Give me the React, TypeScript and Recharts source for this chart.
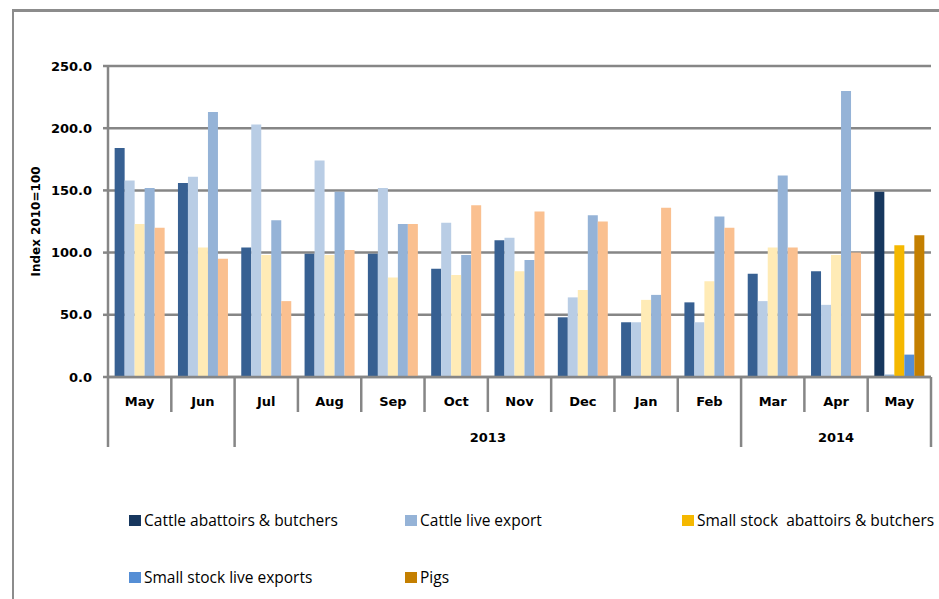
import React from 'react';
import { BarChart, Bar, XAxis, YAxis, CartesianGrid, Cell, Legend } from 'recharts';

const months = ['May', 'Jun', 'Jul', 'Aug', 'Sep', 'Oct', 'Nov', 'Dec', 'Jan', 'Feb', 'Mar', 'Apr', 'May'];
const years = [
  { label: '2013', startIndex: 2, endIndex: 9 },
  { label: '2014', startIndex: 10, endIndex: 12 },
];
const yearBreaks = [0, 2, 10];

const cattleAbattoirs = [184, 156, 104, 99, 99, 87, 110, 48, 44, 60, 83, 85, 149];
const cattleLive = [158, 161, 203, 174, 152, 124, 112, 64, 44, 44, 61, 58, 2];
const smallAbattoirs = [123, 104, 98, 98, 80, 82, 85, 70, 62, 77, 104, 98, 106];
const smallLive = [152, 213, 126, 149, 123, 98, 94, 130, 66, 129, 162, 230, 18];
const pigs = [120, 95, 61, 102, 123, 138, 133, 125, 136, 120, 104, 100, 114];

const seriesNames = [
  'Cattle abattoirs & butchers',
  'Cattle live export',
  'Small stock  abattoirs & butchers',
  'Small stock live exports',
  'Pigs',
];
const seriesKeys = ['ca', 'cl', 'sa', 'sl', 'pg'];
const strongColors = ['#17375e', '#95b3d7', '#f5b800', '#558ed5', '#c47f00'];
const fadedColors = ['#376092', '#b9cde5', '#ffebb6', '#95b3d7', '#fac090'];
const yTicks = [0, 50, 100, 150, 200, 250];

const data = months.map((m, i) => ({
  month: m,
  ca: cattleAbattoirs[i],
  cl: cattleLive[i],
  sa: smallAbattoirs[i],
  sl: smallLive[i],
  pg: pigs[i],
}));

const W = 939;
const H = 599;
const MARGIN = { top: 66, right: 8, left: 13, bottom: 152 };
const Y_AXIS_W = 95;
const PLOT_W = W - MARGIN.left - MARGIN.right - Y_AXIS_W;
const STEP = PLOT_W / months.length;
const GRID = '#868686';
const AXIS_FONT = '"DejaVu Sans", sans-serif';

const MonthTick = (props: any) => {
  const { x, y, payload, index } = props;
  const left = x - STEP / 2;
  const right = x + STEP / 2;
  const isBreak = yearBreaks.includes(index);
  const year = years.find((yr) => yr.startIndex === index);
  return (
    <g>
      <line x1={left} y1={y} x2={left} y2={y + (isBreak ? 70 : 35)} stroke={GRID} strokeWidth={2.5} />
      {index === months.length - 1 && (
        <line x1={right} y1={y} x2={right} y2={y + 70} stroke={GRID} strokeWidth={2.5} />
      )}
      <text x={x} y={y + 29} textAnchor="middle" fontFamily={AXIS_FONT} fontWeight="bold" fontSize={13} fill="#000">
        {payload.value}
      </text>
      {year && (
        <text
          x={left + ((year.endIndex - year.startIndex + 1) * STEP) / 2}
          y={y + 65}
          textAnchor="middle"
          fontFamily={AXIS_FONT}
          fontWeight="bold"
          fontSize={13}
          fill="#000"
        >
          {year.label}
        </text>
      )}
    </g>
  );
};

const LegendContent = () => (
  <div
    style={{
      display: 'grid',
      gridTemplateColumns: '276px 277px auto',
      gridAutoRows: '57px',
      paddingLeft: 129,
      fontFamily: '"Open Sans", sans-serif',
      fontSize: 15.5,
      color: '#000',
    }}
  >
    {seriesNames.map((name, i) => (
      <div key={i} style={{ display: 'flex', alignItems: 'center', height: 22, whiteSpace: 'pre' }}>
        <span style={{ display: 'inline-block', width: 12, height: 11, background: strongColors[i], marginRight: 3 }} />
        <span>{name}</span>
      </div>
    ))}
  </div>
);

export default function App() {
  return (
    <div style={{ position: 'absolute', left: 0, top: 0, width: W, height: H, background: '#fff', overflow: 'hidden' }}>
      <div style={{ position: 'absolute', left: 12, top: 9, width: 2, height: H, background: '#8c8c8c' }} />
      <div style={{ position: 'absolute', left: 12, top: 9, width: W, height: 2.5, background: '#8c8c8c' }} />
      <div style={{ position: 'absolute', left: 0, top: 0 }}>
        <BarChart width={W} height={H} data={data} margin={MARGIN} barCategoryGap="10.5%" barGap={0}>
          <CartesianGrid vertical={false} stroke={GRID} strokeWidth={2.5} />
          <XAxis
            dataKey="month"
            height={70}
            tickLine={false}
            tickSize={0}
            tickMargin={0}
            axisLine={{ stroke: GRID, strokeWidth: 2.5 }}
            tick={<MonthTick />}
            interval={0}
          />
          <YAxis
            domain={[0, 250]}
            ticks={yTicks}
            width={Y_AXIS_W}
            tickFormatter={(v: number) => v.toFixed(1)}
            tickSize={5}
            tickMargin={11}
            tickLine={{ stroke: GRID, strokeWidth: 2.5 }}
            axisLine={{ stroke: GRID, strokeWidth: 2.5 }}
            tick={{ fontFamily: AXIS_FONT, fontWeight: 'bold', fontSize: 13, fill: '#000' }}
            label={{
              value: 'Index 2010=100',
              angle: -90,
              position: 'insideLeft',
              offset: 23,
              style: { textAnchor: 'middle', fontFamily: AXIS_FONT, fontWeight: 'bold', fontSize: 12, fill: '#000' },
            }}
          />
          <Legend
            layout="horizontal"
            verticalAlign="middle"
            align="center"
            wrapperStyle={{ top: 509, left: 0, width: W }}
            content={<LegendContent />}
          />
          {seriesKeys.map((k, s) => (
            <Bar key={k} dataKey={k} name={seriesNames[s]} fill={strongColors[s]} isAnimationActive={false}>
              {data.map((_, i) => (
                <Cell key={i} fill={i === months.length - 1 ? strongColors[s] : fadedColors[s]} />
              ))}
            </Bar>
          ))}
        </BarChart>
      </div>
    </div>
  );
}
